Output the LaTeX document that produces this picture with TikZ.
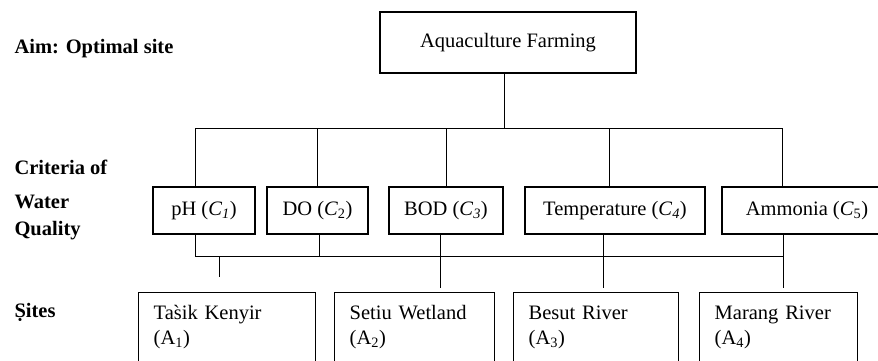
\documentclass[tikz,border=0pt]{standalone}
\usepackage{fontspec}
\setmainfont{Liberation Serif}

\begin{document}
\begin{tikzpicture}[x=1pt, y=-1pt, every node/.style={font=\fontsize{20.5}{25}\selectfont},
    box/.style={draw, line width=1.4pt, inner sep=0pt, minimum height=47pt},
    site/.style={draw, line width=1.4pt, anchor=north west, align=left, inner xsep=15pt, inner ysep=0pt, text height=27pt, text depth=80pt},
    lbl/.style={anchor=base west, font=\fontsize{20.5}{25}\selectfont\bfseries},
    link/.style={line width=1pt}]
    \useasboundingbox (0,0) rectangle (878,360);
    \clip (0,0) rectangle (878,360);
    \node[lbl] (aim) at (11,53) {Aim: Optimal site};
    \node[lbl] (crit) at (11,174) {Criteria of};
    \node[lbl] (water) at (11,208) {Water};
    \node[lbl] (qual) at (11,235) {Quality};
    \node[lbl] (sites) at (11,317) {Ṣites};
    \node[box, minimum width=256pt, minimum height=61pt] (aqua) at (508,42.5) {Aquaculture Farming};
    \node[box, minimum width=102pt] (ph) at (204,210.5) {pH (\textit{C}\textsubscript{\textit{1}})};
    \node[box, minimum width=101pt] (do) at (317.5,210.5) {DO (\textit{C}\textsubscript{2})};
    \node[box, minimum width=114pt] (bod) at (446,210.5) {BOD (\textit{C}\textsubscript{\textit{3}})};
    \node[box, minimum width=180pt] (temp) at (615,210.5) {Temperature (\textit{C}\textsubscript{\textit{4}})};
    \node[box, minimum width=170pt] (amm) at (807,210.5) {Ammonia (\textit{C}\textsubscript{5})};
    \node[site, text width=147pt] (tasik) at (138,292) {Ta\`{s}ik Kenyir\\(A\textsubscript{1})};
    \node[site, text width=130pt] (setiu) at (334,292) {Setiu Wetland\\(A\textsubscript{2})};
    \node[site, text width=135pt] (besut) at (513,292) {Besut River\\(A\textsubscript{3})};
    \node[site, text width=128pt] (marang) at (699,292) {Marang River\\(A\textsubscript{4})};
    \coordinate (up) at (504,128);
    \draw[link] (up |- aqua.south) -- (up);
    \foreach \nm/\xx in {ph/195, do/317, bod/446, temp/609, amm/782}
        \coordinate (t-\nm) at (\xx,128);
    \draw[link] (t-ph) -- (t-amm);
    \foreach \nm in {ph,do,bod,temp,amm}
        \draw[link] (t-\nm) -- (t-\nm |- \nm.north);
    \foreach \nm/\xx in {ph/195, do/319, bod/440, temp/603, amm/783}
        \coordinate (b-\nm) at (\xx,256);
    \draw[link] (b-ph) -- (b-amm);
    \draw[link] (b-ph |- ph.south) -- (b-ph);
    \draw[link] (b-do |- do.south) -- (b-do);
    \draw[link, shorten >=4pt] (b-bod |- bod.south) -- (b-bod |- setiu.north);
    \draw[link, shorten >=4pt] (b-temp |- temp.south) -- (b-temp |- besut.north);
    \draw[link, shorten >=4pt] (b-amm |- amm.south) -- (b-amm |- marang.north);
    \coordinate (stub) at (219,277);
    \draw[link] (stub |- b-ph) -- (stub);
\end{tikzpicture}
\end{document}
